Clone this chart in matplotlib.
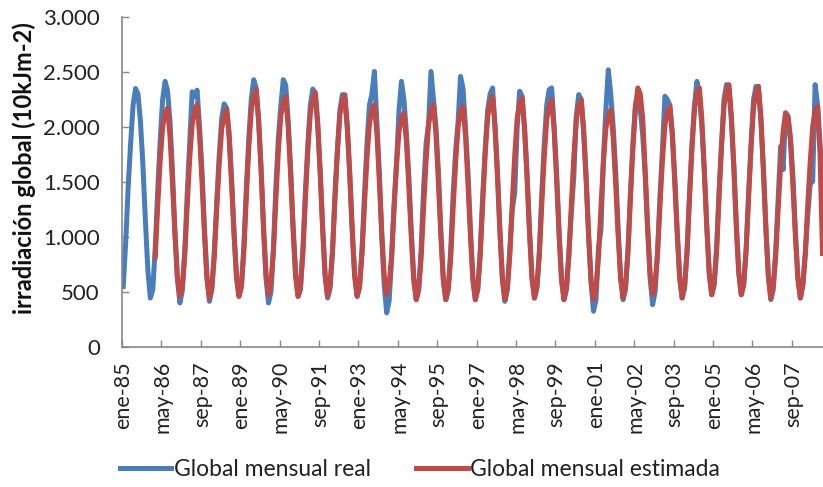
#!/usr/bin/env python3
"""Monthly global irradiation, real vs estimated, Jan 1985 - Sep 2008 -> out.png."""
import matplotlib
matplotlib.use("Agg")
import matplotlib.pyplot as plt
import matplotlib.transforms as mtransforms
from matplotlib.ticker import FuncFormatter, FixedLocator
import numpy as np

plt.rcParams["font.family"] = ["Lato", "DejaVu Sans"]

MONTHS_ES = ["ene", "feb", "mar", "abr", "may", "jun",
             "jul", "ago", "sep", "oct", "nov", "dic"]
FIRST_YEAR = 1985

# Global mensual real (10kJm-2), one row per year, Jan..Dec
REAL = [
    550, 950, 1450, 1850, 2200, 2350, 2300, 2050, 1650, 1150, 700, 445,   # 1985
    520, 900, 1420, 1870, 2250, 2415, 2330, 2050, 1600, 1050, 620, 400,   # 1986
    510, 880, 1400, 1850, 2320, 2280, 2335, 2000, 1600, 1080, 640, 415,   # 1987
    520, 880, 1330, 1750, 2080, 2210, 2170, 1950, 1540, 1050, 650, 460,   # 1988
    540, 920, 1450, 1900, 2250, 2430, 2350, 2050, 1620, 1050, 620, 400,   # 1989
    500, 900, 1460, 1900, 2190, 2430, 2380, 2050, 1620, 1100, 680, 460,   # 1990
    520, 900, 1420, 1850, 2200, 2345, 2300, 2000, 1600, 1080, 650, 445,   # 1991
    530, 880, 1400, 1800, 2150, 2295, 2260, 1980, 1580, 1060, 650, 460,   # 1992
    540, 900, 1400, 1850, 2200, 2300, 2505, 2050, 1600, 1000, 560, 310,   # 1993
    420, 800, 1300, 1675, 2150, 2415, 2250, 1950, 1550, 1050, 640, 430,   # 1994
    520, 900, 1450, 1850, 2030, 2505, 2250, 2000, 1600, 1050, 620, 430,   # 1995
    520, 880, 1400, 1780, 2050, 2460, 2350, 2000, 1600, 1080, 640, 430,   # 1996
    520, 880, 1380, 1800, 2150, 2300, 2355, 2000, 1600, 1050, 620, 415,   # 1997
    520, 880, 1250, 1400, 2000, 2325, 2280, 1980, 1580, 1060, 640, 445,   # 1998
    530, 880, 1400, 1850, 2200, 2340, 2355, 2000, 1600, 1050, 620, 430,   # 1999
    520, 860, 1220, 1550, 2100, 2295, 2250, 1950, 1550, 1000, 580, 325,   # 2000
    430, 900, 1060, 1700, 2150, 2520, 2300, 2000, 1600, 1080, 640, 430,   # 2001
    520, 880, 1400, 1850, 2200, 2300, 2150, 1920, 1550, 1050, 620, 385,   # 2002
    500, 860, 1380, 1800, 2280, 2250, 2200, 1950, 1550, 1050, 640, 445,   # 2003
    540, 880, 1400, 1850, 2200, 2415, 2300, 2000, 1600, 1100, 680, 475,   # 2004
    560, 900, 1420, 1850, 2250, 2385, 2350, 2050, 1650, 1100, 680, 475,   # 2005
    560, 900, 1400, 1850, 2250, 2370, 2340, 2050, 1620, 1080, 650, 430,   # 2006
    520, 880, 1350, 1824, 1612, 2130, 2100, 1900, 1550, 1050, 640, 445,   # 2007
    560, 850, 1200, 1480, 1505, 2385, 2200, 1850, 1500,                   # 2008
]

# Global mensual estimada, starts feb-86
EST_START = 13
ESTIMATED = [
    820, 1280, 1690, 2000, 2120, 2172, 1915, 1487, 1025, 631, 460,        # 1986
    555, 835, 1290, 1710, 2025, 2150, 2203, 1930, 1490, 1020, 620, 445,   # 1987
    550, 820, 1265, 1670, 1985, 2110, 2157, 1902, 1480, 1020, 630, 460,   # 1988
    570, 870, 1360, 1815, 2150, 2280, 2339, 2060, 1600, 1090, 660, 475,   # 1989
    580, 870, 1340, 1780, 2100, 2220, 2278, 2000, 1550, 1060, 640, 460,   # 1990
    570, 870, 1350, 1800, 2130, 2260, 2315, 2040, 1570, 1070, 645, 460,   # 1991
    570, 865, 1340, 1785, 2115, 2245, 2294, 2020, 1560, 1065, 645, 460,   # 1992
    570, 850, 1300, 1720, 2030, 2150, 2203, 1945, 1510, 1045, 650, 475,   # 1993
    570, 830, 1260, 1660, 1960, 2080, 2127, 1870, 1450, 990, 600, 430,    # 1994
    530, 810, 1270, 1690, 2020, 2150, 2203, 1940, 1495, 1015, 605, 430,   # 1995
    530, 810, 1265, 1680, 2005, 2135, 2187, 1925, 1485, 1010, 605, 430,   # 1996
    540, 835, 1310, 1750, 2090, 2225, 2278, 2000, 1540, 1040, 615, 430,   # 1997
    540, 830, 1305, 1740, 2080, 2210, 2264, 1990, 1535, 1045, 625, 445,   # 1998
    550, 830, 1300, 1730, 2065, 2195, 2248, 1975, 1520, 1030, 610, 430,   # 1999
    540, 830, 1300, 1730, 2065, 2195, 2248, 1975, 1520, 1030, 610, 430,   # 2000
    535, 810, 1260, 1670, 1985, 2105, 2157, 1900, 1475, 1010, 620, 448,   # 2001
    560, 870, 1360, 1810, 2160, 2355, 2300, 2070, 1600, 1090, 665, 475,   # 2002
    570, 850, 1290, 1700, 2015, 2140, 2187, 1925, 1490, 1025, 620, 445,   # 2003
    560, 870, 1360, 1810, 2160, 2300, 2355, 2070, 1600, 1090, 665, 475,   # 2004
    580, 880, 1375, 1830, 2190, 2330, 2385, 2100, 1620, 1100, 670, 475,   # 2005
    580, 880, 1370, 1820, 2180, 2320, 2370, 2085, 1600, 1085, 640, 445,   # 2006
    560, 830, 1260, 1660, 1960, 2127, 2080, 1870, 1455, 1000, 615, 445,   # 2007
    560, 840, 1290, 1680, 2000, 2150, 2190, 1750, 850,                    # 2008
]

LABEL_EVERY = 16
BLUE = "#4A7EBB"
RED = "#BE4B48"
AXIS_GRAY = "#888888"


def month_label(i):
    return f"{MONTHS_ES[i % 12]}-{(FIRST_YEAR + i // 12) % 100:02d}"


def main():
    n = len(REAL)
    x_real = np.arange(n)
    x_est = np.arange(EST_START, EST_START + len(ESTIMATED))

    fig = plt.figure(figsize=(8.23, 4.87), dpi=100)
    ax = fig.add_axes([122 / 823, 140 / 487, 701 / 823, 330 / 487])

    ax.plot(x_real, REAL, color=BLUE, lw=3.6, solid_joinstyle="round",
            label="Global mensual real")
    ax.plot(x_est, ESTIMATED, color=RED, lw=3.6, solid_joinstyle="round",
            label="Global mensual estimada")

    ax.set_xlim(-0.5, 284.2)
    ax.set_ylim(0, 3000)
    ax.set_yticks(np.arange(0, 3001, 500))
    ax.yaxis.set_major_formatter(
        FuncFormatter(lambda v, _: f"{v:,.0f}".replace(",", ".")))

    # tick marks between categories, labels on the categories
    ax.xaxis.set_major_locator(FixedLocator(np.arange(-0.5, n, LABEL_EVERY)))
    ax.xaxis.set_major_formatter(FuncFormatter(lambda v, _: ""))
    lab_pos = np.arange(0, n, LABEL_EVERY)
    ax.xaxis.set_minor_locator(FixedLocator(lab_pos))
    ax.set_xticklabels([month_label(i) for i in lab_pos], minor=True,
                       rotation=90, fontsize=15.5, color="#222222")
    offset = mtransforms.ScaledTranslation(4 / 100, 0, fig.dpi_scale_trans)
    for lab in ax.xaxis.get_minorticklabels():
        lab.set_transform(lab.get_transform() + offset)

    ax.tick_params(axis="x", which="major", direction="in", length=5,
                   width=1, color=AXIS_GRAY)
    ax.tick_params(axis="x", which="minor", length=0, pad=10)
    ax.tick_params(axis="y", direction="in", length=5, width=1,
                   color=AXIS_GRAY, labelsize=16, labelcolor="#222222")
    ax.yaxis.set_tick_params(pad=16)

    for side in ("top", "right"):
        ax.spines[side].set_visible(False)
    for side in ("left", "bottom"):
        ax.spines[side].set_color(AXIS_GRAY)
        ax.spines[side].set_linewidth(1.2)

    fig.text(24 / 823, 1 - 168 / 487, "irradiación global (10kJm-2)",
             rotation=90, ha="center", va="center", fontsize=17,
             fontweight="bold", color="#111111")

    fig.legend(loc="center", bbox_to_anchor=(420 / 823, 17 / 487), ncol=2,
               frameon=False, fontsize=16.5, handlelength=2.25,
               handletextpad=0.1, columnspacing=2.0, labelcolor="#222222")

    fig.savefig("out.png", dpi=100)
    plt.close(fig)


if __name__ == "__main__":
    main()
